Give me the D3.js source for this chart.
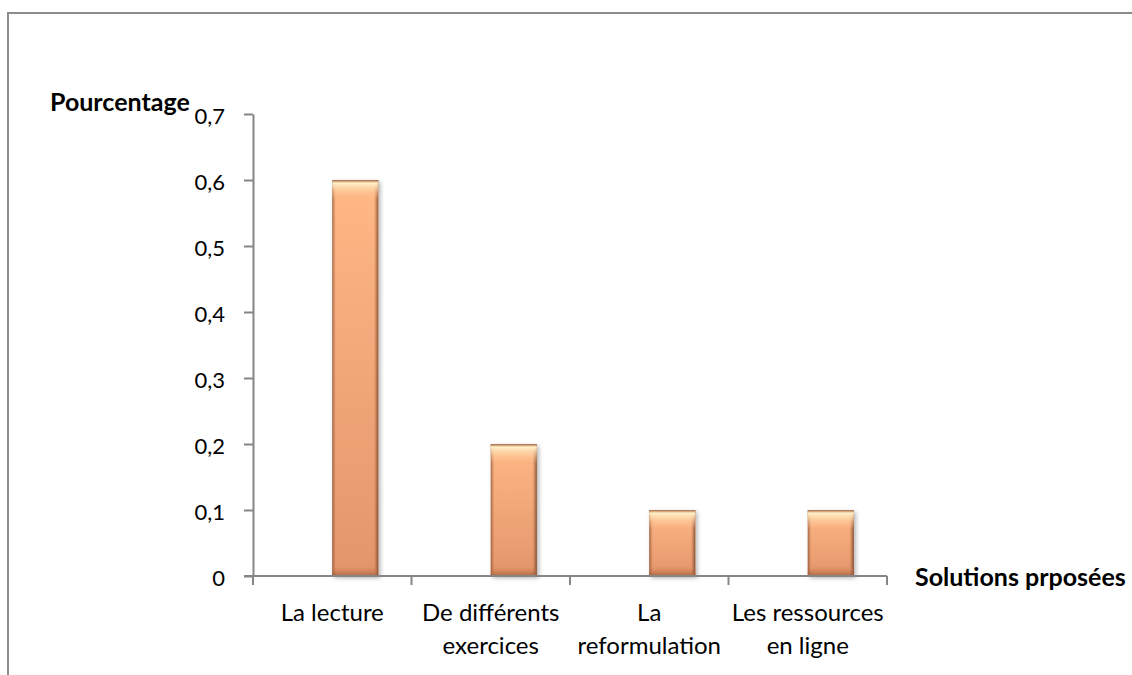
<!DOCTYPE html>
<html>
<head>
<meta charset="utf-8">
<script src="https://cdn.jsdelivr.net/npm/d3@7"></script>
<style>
  html, body { margin: 0; padding: 0; background: #fff; }
  svg { display: block; }
  text { font-family: Lato, "Open Sans", sans-serif; fill: #000; }
</style>
</head>
<body>
<svg id="chart" width="1132" height="675"></svg>
<script>
// Solutions proposées et leur part
const categories = [["La lecture"], ["De différents", "exercices"], ["La", "reformulation"], ["Les ressources", "en ligne"]];
const values = [0.6, 0.2, 0.1, 0.1];
const yTicks = [0, 0.1, 0.2, 0.3, 0.4, 0.5, 0.6, 0.7];
const yTickLabels = ["0", "0,1", "0,2", "0,3", "0,4", "0,5", "0,6", "0,7"];
const yTitle = "Pourcentage";
const xTitle = "Solutions prposées";

const svg = d3.select("#chart");
const W = 1132, H = 675;

// outer frame of the chart area
svg.append("rect")
  .attr("x", 8).attr("y", 13).attr("width", W + 10).attr("height", H + 10)
  .attr("fill", "none").attr("stroke", "#8c8c8c").attr("stroke-width", 2);

const plot = { left: 253, right: 887, top: 114, bottom: 576 };

const keys = categories.map((c, i) => i);
const x = d3.scaleBand().domain(keys).range([plot.left, plot.right]).padding(0);
// two slots per category; the bar sits in the second slot
const xSub = d3.scaleBand().domain(["a", "b"]).range([0, x.bandwidth()]).paddingInner(0).paddingOuter(0.72);
const y = d3.scaleLinear().domain([0, 0.7]).range([plot.bottom, plot.top]);

const defs = svg.append("defs");
const body = defs.append("linearGradient").attr("id", "barBody")
  .attr("x1", 0).attr("y1", 0).attr("x2", 0).attr("y2", 1);
body.append("stop").attr("offset", "0%").attr("stop-color", "#ffb886");
body.append("stop").attr("offset", "100%").attr("stop-color", "#e3956a");

const sides = defs.append("linearGradient").attr("id", "barSides")
  .attr("x1", 0).attr("y1", 0).attr("x2", 1).attr("y2", 0);
sides.append("stop").attr("offset", "0%").attr("stop-color", "#6b3a22").attr("stop-opacity", 0.65);
sides.append("stop").attr("offset", "8%").attr("stop-color", "#b56a42").attr("stop-opacity", 0.0);
sides.append("stop").attr("offset", "90%").attr("stop-color", "#b56a42").attr("stop-opacity", 0.0);
sides.append("stop").attr("offset", "100%").attr("stop-color", "#5a2f1b").attr("stop-opacity", 0.75);

const topHi = defs.append("linearGradient").attr("id", "barTop")
  .attr("x1", 0).attr("y1", 0).attr("x2", 0).attr("y2", 1);
topHi.append("stop").attr("offset", "0%").attr("stop-color", "#a0603c").attr("stop-opacity", 0.9);
topHi.append("stop").attr("offset", "15%").attr("stop-color", "#fff1c8").attr("stop-opacity", 1);
topHi.append("stop").attr("offset", "100%").attr("stop-color", "#ffb887").attr("stop-opacity", 0);

const botSh = defs.append("linearGradient").attr("id", "barBottom")
  .attr("x1", 0).attr("y1", 0).attr("x2", 0).attr("y2", 1);
botSh.append("stop").attr("offset", "0%").attr("stop-color", "#c97a50").attr("stop-opacity", 0);
botSh.append("stop").attr("offset", "100%").attr("stop-color", "#9a5734").attr("stop-opacity", 0.7);

const shadow = defs.append("filter").attr("id", "shadow")
  .attr("x", "-20%").attr("y", "-5%").attr("width", "150%").attr("height", "115%");
shadow.append("feDropShadow").attr("dx", 2).attr("dy", 2).attr("stdDeviation", 2)
  .attr("flood-color", "#000").attr("flood-opacity", 0.3);

// y axis
const yAxis = svg.append("g").attr("transform", `translate(${plot.left},0)`)
  .call(d3.axisLeft(y).tickValues(yTicks).tickFormat((d, i) => yTickLabels[i]).tickSize(9).tickSizeOuter(0).tickPadding(19));
yAxis.select(".domain").attr("stroke", "#868686").attr("stroke-width", 2);
yAxis.selectAll(".tick line").attr("stroke", "#868686").attr("stroke-width", 2);
yAxis.selectAll(".tick text").style("font-size", "22px").attr("dy", "0.42em")
  .attr("font-family", "Lato, 'Open Sans', sans-serif").attr("fill", "#000");

// bars
const bars = svg.append("g").selectAll("g.bar").data(values).join("g").attr("class", "bar")
  .attr("transform", (d, i) => `translate(${x(i) + xSub("b")},${y(d)})`);
const bw = xSub.bandwidth();
bars.append("rect").attr("width", bw).attr("height", d => y(0) - y(d))
  .attr("fill", "url(#barBody)").attr("filter", "url(#shadow)");
bars.append("rect").attr("width", bw).attr("height", d => y(0) - y(d)).attr("fill", "url(#barSides)");
bars.append("rect").attr("width", bw).attr("height", d => Math.min(20, y(0) - y(d))).attr("fill", "url(#barTop)");
bars.append("rect").attr("y", d => y(0) - y(d) - 10).attr("width", bw).attr("height", 10).attr("fill", "url(#barBottom)");

// x axis
const xAxis = svg.append("g").attr("transform", `translate(0,${plot.bottom})`);
xAxis.append("line").attr("x1", plot.left - 9).attr("x2", plot.right)
  .attr("stroke", "#868686").attr("stroke-width", 2);
const bounds = keys.map(k => x(k)).concat([plot.right]);
xAxis.selectAll("line.tk").data(bounds).join("line").attr("class", "tk")
  .attr("x1", d => d).attr("x2", d => d).attr("y1", 0).attr("y2", 9)
  .attr("stroke", "#868686").attr("stroke-width", 2);

const labels = svg.append("g").selectAll("text.cat").data(categories).join("text").attr("class", "cat")
  .attr("x", (d, i) => x(i) + x.bandwidth() / 2).attr("y", 621)
  .attr("text-anchor", "middle").style("font-size", "24px");
labels.selectAll("tspan").data(d => d).join("tspan")
  .attr("x", function () { return d3.select(this.parentNode).attr("x"); })
  .attr("dy", (d, i) => i === 0 ? 0 : 33).text(d => d);

// axis titles
svg.append("text").attr("x", 50).attr("y", 111).style("font-size", "25px").style("font-weight", "bold").text(yTitle);
svg.append("text").attr("x", 915).attr("y", 586).style("font-size", "25px").style("font-weight", "bold").text(xTitle);
</script>
</body>
</html>
